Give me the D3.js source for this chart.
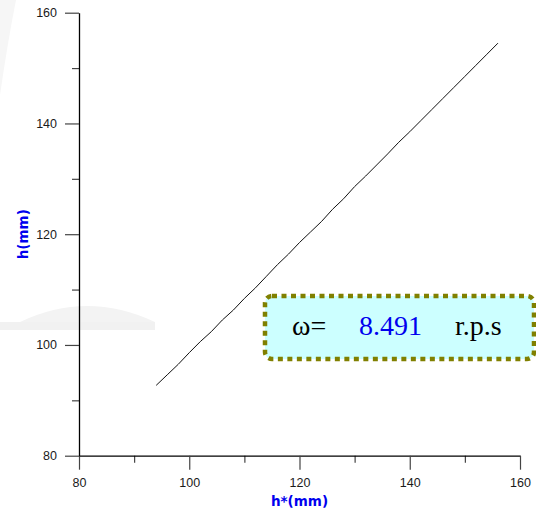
<!DOCTYPE html>
<html>
<head>
<meta charset="utf-8">
<script src="https://cdn.jsdelivr.net/npm/d3@7"></script>
<style>
  body { margin: 0; background: #fff; }
  svg { display: block; }
</style>
</head>
<body>
<div id="chart"></div>
<script>
width = 536
height = 512

// data
var hStar = [94, 96, 98, 100, 102, 104, 106, 108, 110, 112, 114, 116, 118, 120, 122, 124,
             126, 128, 130, 132, 134, 136, 138, 140, 142, 144, 146, 148, 150, 152, 154, 156]
var hVals = [92.7, 94.6, 96.5, 98.6, 100.6, 102.4, 104.5, 106.3, 108.4, 110.3, 112.4, 114.5, 116.4, 118.5, 120.4, 122.3,
             124.5, 126.4, 128.6, 130.5, 132.5, 134.5, 136.6, 138.5, 140.5, 142.5, 144.5, 146.5, 148.5, 150.5, 152.5, 154.5]
var majorTicks = [80, 100, 120, 140, 160]
var minorTicks = [90, 110, 130, 150]
var omegaLabel = "ω="
var omegaValue = "8.491"
var omegaUnit = "r.p.s"

let svg = d3.select("#chart")
  .append("svg")
  .attr("width", width)
  .attr("height", height)

// faint watermark in the background
svg.append("path")
  .attr("d", "M20,322 Q87,290 155,322 Z")
  .attr("fill", "#f3f3f3")
svg.append("rect")
  .attr("x", 0).attr("y", 322).attr("width", 155).attr("height", 8)
  .attr("fill", "#f1f1f1")
svg.append("path")
  .attr("d", "M0,0 L16,0 Q8,40 0,95 Z")
  .attr("fill", "#f6f6f6")

var x = d3.scaleLinear().domain([80, 160]).range([79, 520])
var y = d3.scaleLinear().domain([80, 160]).range([455.7, 12.7])

function styleAxis(g) {
  g.select(".domain").attr("stroke", "#000").attr("stroke-width", 1.3)
  g.selectAll(".tick line").attr("stroke", "#444").attr("stroke-width", 1.2)
  g.selectAll(".tick text")
    .attr("fill", "#1a1a1a")
    .style("font-family", "'Liberation Sans', Arial, sans-serif")
    .style("font-size", "12.5px")
}

// minor ticks first
svg.append("g")
  .attr("transform", `translate(0, ${y(80)})`)
  .call(d3.axisBottom(x).tickValues(minorTicks).tickSize(7).tickFormat("").tickSizeOuter(0))
  .call(g => g.select(".domain").remove())
  .call(g => g.selectAll(".tick line").attr("stroke", "#444").attr("stroke-width", 1.2))

svg.append("g")
  .attr("transform", `translate(${x(80)}, 0)`)
  .call(d3.axisLeft(y).tickValues(minorTicks).tickSize(7).tickFormat("").tickSizeOuter(0))
  .call(g => g.select(".domain").remove())
  .call(g => g.selectAll(".tick line").attr("stroke", "#444").attr("stroke-width", 1.2))

svg.append("g")
  .attr("transform", `translate(0, ${y(80)})`)
  .call(d3.axisBottom(x).tickValues(majorTicks).tickSize(14).tickPadding(8).tickSizeOuter(0))
  .call(styleAxis)

svg.append("g")
  .attr("transform", `translate(${x(80)}, 0)`)
  .call(d3.axisLeft(y).tickValues(majorTicks).tickSize(14).tickPadding(8).tickSizeOuter(0))
  .call(styleAxis)

// axis titles
svg.append("text")
  .attr("x", x(120))
  .attr("y", 506)
  .attr("text-anchor", "middle")
  .attr("fill", "#0000ee")
  .style("font-family", "'DejaVu Sans', sans-serif")
  .style("font-weight", "bold")
  .style("font-size", "13.5px")
  .text("h*(mm)")

svg.append("text")
  .attr("transform", `translate(28, ${y(120)}) rotate(-90)`)
  .attr("text-anchor", "middle")
  .attr("fill", "#0000ee")
  .style("font-family", "'DejaVu Sans', sans-serif")
  .style("font-weight", "bold")
  .style("font-size", "13.5px")
  .text("h(mm)")

// the curve
var pts = hStar.map((v, i) => [v, hVals[i]])
var line = d3.line().x(d => x(d[0])).y(d => y(d[1]))

svg.append("path")
  .datum(pts)
  .attr("fill", "none")
  .attr("stroke", "#111")
  .attr("stroke-width", 1)
  .attr("d", line)

// annotation box
var box = svg.append("g")
box.append("rect")
  .attr("x", 265).attr("y", 296)
  .attr("width", 269).attr("height", 63)
  .attr("rx", 7)
  .attr("fill", "#ccffff")
  .attr("stroke", "#808000")
  .attr("stroke-width", 4.5)
  .attr("stroke-dasharray", "5 4.5")

var serif = "'Liberation Serif', 'Times New Roman', serif"
box.append("text")
  .attr("x", 292).attr("y", 335)
  .style("font-family", serif).style("font-size", "28px")
  .attr("fill", "#000")
  .text(omegaLabel)
box.append("text")
  .attr("x", 359).attr("y", 335)
  .style("font-family", serif).style("font-size", "28px")
  .attr("fill", "#0000ee")
  .text(omegaValue)
box.append("text")
  .attr("x", 455).attr("y", 335)
  .style("font-family", serif).style("font-size", "28px")
  .attr("fill", "#000")
  .text(omegaUnit)
</script>
</body>
</html>
